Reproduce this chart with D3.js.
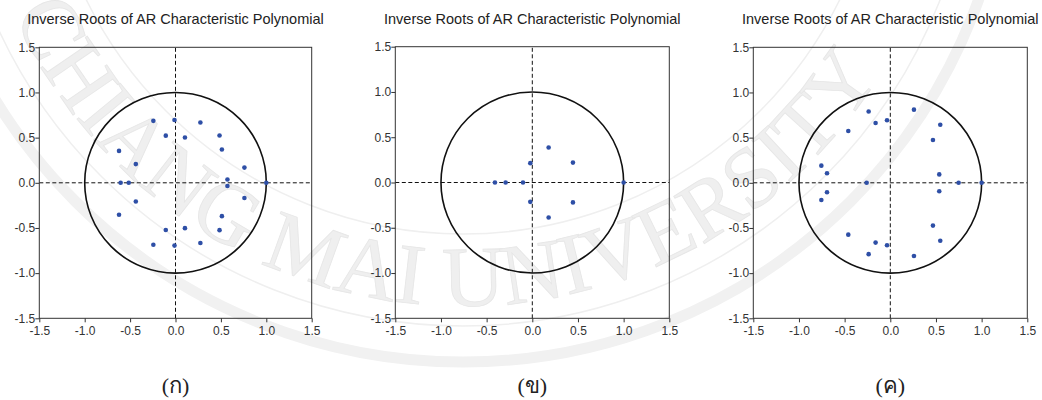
<!DOCTYPE html>
<html>
<head>
<meta charset="utf-8">
<script src="https://cdn.jsdelivr.net/npm/d3@7"></script>
<style>
  body { margin: 0; background: #fff; }
  svg { display: block; }
</style>
</head>
<body>
<div id="chart"></div>
<script>
var reA = [-0.244, -0.244, -0.011, -0.011, 0.274, 0.274, -0.107, -0.107, 0.104, 0.104,
           0.485, 0.485, 0.511, 0.511, -0.622, -0.622, -0.437, -0.437, 0.759, 0.759,
           0.572, 0.572, -0.604, -0.515, 1.0];
var imA = [0.686, -0.686, 0.695, -0.695, 0.667, -0.667, 0.522, -0.522, 0.502, -0.502,
           0.524, -0.524, 0.369, -0.369, 0.353, -0.353, 0.207, -0.207, 0.168, -0.168,
           0.036, -0.036, 0, 0, 0];

var reB = [0.179, 0.179, 0.445, 0.445, -0.022, -0.022, -0.409, -0.292, -0.102, 1.0];
var imB = [0.386, -0.386, 0.220, -0.220, 0.214, -0.214, 0, 0, 0, 0];

var reC = [-0.237, -0.237, 0.259, 0.259, -0.161, -0.161, -0.036, -0.036, -0.460, -0.460,
           0.547, 0.547, 0.467, 0.467, -0.755, -0.755, -0.693, -0.693, 0.536, 0.536,
           -0.259, 0.748, 1.0];
var imC = [0.790, -0.790, 0.810, -0.810, 0.662, -0.662, 0.692, -0.692, 0.574, -0.574,
           0.642, -0.642, 0.474, -0.474, 0.190, -0.190, 0.105, -0.105, 0.093, -0.093,
           0, 0, 0];

var tickVals = [-1.5, -1.0, -0.5, 0.0, 0.5, 1.0, 1.5];
var titles = ["Inverse Roots of AR Characteristic Polynomial",
              "Inverse Roots of AR Characteristic Polynomial",
              "Inverse Roots of AR Characteristic Polynomial"];
var captions = ["(ก)", "(ข)", "(ค)"];
var watermark = "CHIANG MAI UNIVERSITY";

var W = 1042, H = 400;
var svg = d3.select("#chart").append("svg")
    .attr("width", W)
    .attr("height", H);

// faint university watermark behind the charts
var wm = svg.append("g").attr("class", "watermark");
var cx = 463, cy = -186;
[[420, 1.5, "#efefef"], [512, 1.5, "#efefef"], [548, 11, "#f1f1f1"]].forEach(function(a) {
  wm.append("circle")
      .attr("cx", cx).attr("cy", cy).attr("r", a[0])
      .attr("fill", "none")
      .attr("stroke", a[2])
      .attr("stroke-width", a[1]);
});
var rT = 492, a0 = 156 * Math.PI / 180, a1 = 32 * Math.PI / 180;
wm.append("path")
    .attr("id", "wmpath")
    .attr("fill", "none")
    .attr("d", "M" + (cx + rT * Math.cos(a0)) + "," + (cy + rT * Math.sin(a0)) +
               " A" + rT + "," + rT + " 0 0 0 " + (cx + rT * Math.cos(a1)) + "," + (cy + rT * Math.sin(a1)));
wm.append("text")
    .attr("font-family", "Liberation Serif, serif")
    .attr("font-size", 86)
    .attr("fill", "#efefef")
    .attr("stroke", "#e6e6e6")
    .attr("stroke-width", 0.8)
  .append("textPath")
    .attr("href", "#wmpath")
    .attr("textLength", rT * (a0 - a1))
    .attr("lengthAdjust", "spacingAndGlyphs")
    .text(watermark);

var panels = [
  {left: 39.3, right: 311.7, top: 47.3, bottom: 318.3, re: reA, im: imA},
  {left: 395.3, right: 669.3, top: 46.7, bottom: 318.3, re: reB, im: imB},
  {left: 753.3, right: 1027.3, top: 47.3, bottom: 318.3, re: reC, im: imC}
];

var loc = d3.formatLocale({decimal: ".", thousands: ",", grouping: [3], currency: ["", ""], minus: "-"});
var fmt = loc.format(".1f");

panels.forEach(function(p, i) {
  var x = d3.scaleLinear().domain([-1.5, 1.5]).range([p.left, p.right]);
  var y = d3.scaleLinear().domain([-1.5, 1.5]).range([p.bottom, p.top]);
  var g = svg.append("g");

  // title
  g.append("text")
      .attr("x", (p.left + p.right) / 2)
      .attr("y", 24)
      .attr("text-anchor", "middle")
      .attr("font-family", "Liberation Sans, Arial, sans-serif")
      .attr("font-size", 14.5)
      .attr("fill", "#222")
      .text(titles[i]);

  // axes
  var ax = g.append("g")
      .attr("transform", "translate(0," + p.bottom + ")")
      .call(d3.axisBottom(x).tickValues(tickVals).tickFormat(fmt).tickSize(4).tickPadding(4));
  var ay = g.append("g")
      .attr("transform", "translate(" + p.left + ",0)")
      .call(d3.axisLeft(y).tickValues(tickVals).tickFormat(fmt).tickSize(4).tickPadding(0));
  [ax, ay].forEach(function(a) {
    a.select(".domain").remove();
    a.selectAll("line").attr("stroke", "#333");
    a.selectAll("text")
        .attr("font-family", "Liberation Sans, Arial, sans-serif")
        .attr("font-size", 12)
        .attr("fill", "#333");
  });

  // dashed zero lines
  g.append("line")
      .attr("x1", x(-1.5)).attr("x2", x(1.5))
      .attr("y1", y(0)).attr("y2", y(0))
      .attr("stroke", "#111").attr("stroke-width", 1)
      .attr("stroke-dasharray", "4,2.5");
  g.append("line")
      .attr("x1", x(0)).attr("x2", x(0))
      .attr("y1", y(-1.5)).attr("y2", y(1.5))
      .attr("stroke", "#111").attr("stroke-width", 1)
      .attr("stroke-dasharray", "4,2.5");

  // unit circle
  g.append("ellipse")
      .attr("cx", x(0)).attr("cy", y(0))
      .attr("rx", x(1) - x(0)).attr("ry", y(0) - y(1))
      .attr("fill", "none")
      .attr("stroke", "#111")
      .attr("stroke-width", 1.6);

  // frame
  g.append("rect")
      .attr("x", x(-1.5)).attr("y", y(1.5))
      .attr("width", x(1.5) - x(-1.5))
      .attr("height", y(-1.5) - y(1.5))
      .attr("fill", "none")
      .attr("stroke", "#333")
      .attr("stroke-width", 1);

  // roots
  g.selectAll("circle.root")
      .data(p.re.map(function(r, k) { return {re: r, im: p.im[k]}; }))
    .enter().append("circle")
      .attr("class", "root")
      .attr("cx", function(d) { return x(d.re); })
      .attr("cy", function(d) { return y(d.im); })
      .attr("r", 2.3)
      .attr("fill", "#2e4fa6");

  // caption
  g.append("text")
      .attr("x", (p.left + p.right) / 2)
      .attr("y", 393)
      .attr("text-anchor", "middle")
      .attr("font-family", "Liberation Serif, serif")
      .attr("font-size", 22)
      .attr("fill", "#222")
      .text(captions[i]);
});
</script>
</body>
</html>
